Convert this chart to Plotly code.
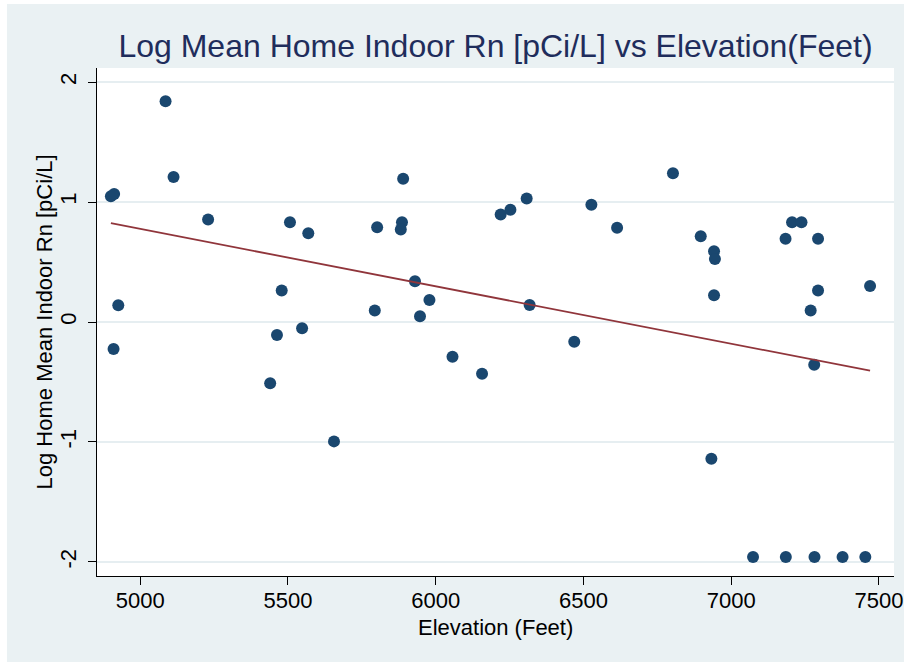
import plotly.graph_objects as go

# County elevation (feet) and log mean home indoor radon (pCi/L)
elevation_ft = [
    4901, 4912, 5086, 5113, 4926, 4910, 5230, 5507, 5569, 5479,
    5463, 5548, 5440, 5656, 5802, 5886, 5882, 5890, 5930, 5979,
    5794, 5947, 6057, 6157, 6220, 6253, 6308, 6527, 6614, 6803,
    6318, 6469, 6897, 6942, 6945, 6942, 7206, 7238, 7184, 7294,
    7294, 7269, 7281, 7470, 6933, 7074, 7185, 7282, 7377, 7454,
]
log_radon = [
    1.049, 1.066, 1.840, 1.208, 0.139, -0.225, 0.855, 0.832, 0.740, 0.262,
    -0.108, -0.053, -0.511, -0.995, 0.790, 0.832, 0.771, 1.194, 0.340, 0.184,
    0.095, 0.048, -0.289, -0.431, 0.896, 0.935, 1.030, 0.977, 0.785, 1.239,
    0.142, -0.164, 0.715, 0.590, 0.526, 0.223, 0.832, 0.832, 0.693, 0.693,
    0.262, 0.095, -0.356, 0.300, -1.140, -1.958, -1.958, -1.958, -1.958, -1.958,
]

# Fitted linear trend, evaluated at the lowest and highest elevations
fit_elevation = [4901, 7470]
fit_log_radon = [0.824, -0.406]

x_ticks = [5000, 5500, 6000, 6500, 7000, 7500]
y_ticks = [-2, -1, 0, 1, 2]

PANEL = "#EAF1F3"
FONT = "Liberation Sans, Arial, Helvetica, sans-serif"

fig = go.Figure()
fig.add_trace(go.Scatter(
    x=elevation_ft, y=log_radon, mode="markers",
    marker=dict(size=12, color="#1A476F", line=dict(width=0)),
    showlegend=False,
))
fig.add_trace(go.Scatter(
    x=fit_elevation, y=fit_log_radon, mode="lines",
    line=dict(color="#90353B", width=1.8),
    showlegend=False,
))

axis_title_font = dict(size=22, family=FONT, color="black")

fig.update_layout(
    width=904, height=662,
    margin=dict(l=97, r=10, t=68, b=86),
    paper_bgcolor="white",
    plot_bgcolor="white",
    font=dict(family=FONT, color="black"),
    title=dict(
        text="Log Mean Home Indoor Rn [pCi/L] vs Elevation(Feet)",
        font=dict(size=32, color="#1F2D5C", family=FONT),
        x=0.5, xref="paper", xanchor="center",
        y=1 - 46 / 662, yref="container", yanchor="middle",
    ),
    shapes=[
        dict(type="rect", xref="paper", yref="paper", layer="below",
             x0=-0.113, x1=1.05, y0=-0.2, y1=1.126,
             fillcolor=PANEL, line=dict(width=0)),
        dict(type="rect", xref="paper", yref="paper", layer="below",
             x0=0, x1=1, y0=0, y1=1,
             fillcolor="white", line=dict(width=0)),
    ],
    annotations=[
        dict(text="Elevation (Feet)", xref="paper", yref="paper",
             x=0.5, y=-0.1004, xanchor="center", yanchor="middle",
             showarrow=False, font=axis_title_font),
        dict(text="Log Home Mean Indoor Rn [pCi/L]", xref="paper", yref="paper",
             x=-0.0659, y=0.5, xanchor="center", yanchor="middle",
             textangle=-90, showarrow=False, font=axis_title_font),
    ],
)

fig.update_xaxes(
    range=[4854, 7551],
    tickvals=x_ticks, ticktext=[str(v) for v in x_ticks],
    ticklabelstandoff=-3,
    automargin=False,
    showgrid=False, zeroline=False,
    showline=True, linecolor="black", linewidth=1,
    ticks="outside", ticklen=8, tickcolor="black", tickwidth=1,
    tickfont=dict(size=22, family=FONT, color="black"),
)
fig.update_yaxes(
    range=[-2.117, 2.117],
    tickvals=y_ticks, ticktext=[str(v) for v in y_ticks],
    tickangle=-90,
    ticklabelstandoff=3,
    automargin=False,
    showgrid=True, gridcolor="#E6EEF1", gridwidth=2,
    zeroline=False,
    showline=True, linecolor="black", linewidth=1,
    ticks="outside", ticklen=8, tickcolor="black", tickwidth=1,
    tickfont=dict(size=22, family=FONT, color="black"),
)

fig.write_html("out.html")
